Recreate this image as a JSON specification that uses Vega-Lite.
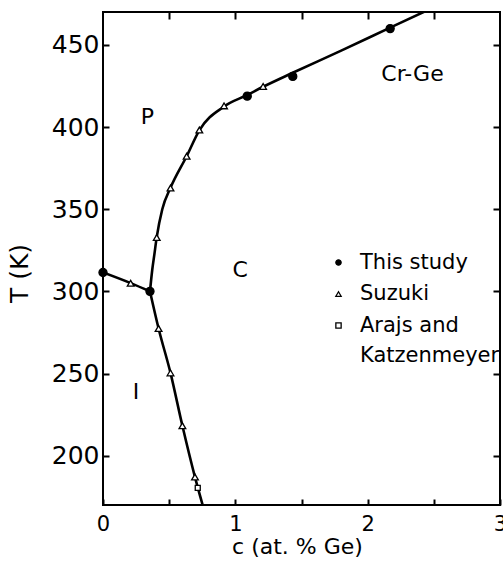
{
  "$schema": "https://vega.github.io/schema/vega-lite/v6.json",
  "width": 397,
  "height": 493,
  "autosize": "none",
  "padding": {"left": 103, "top": 12, "right": 3, "bottom": 58},
  "background": "white",
  "config": {
    "font": "DejaVu Sans",
    "style": {"guide-label": {"lineHeight": 30}},
    "view": {"stroke": "black", "strokeWidth": 2},
    "axis": {"domain": false, "grid": false, "tickColor": "black", "tickWidth": 2, "tickSize": -6, "labelColor": "black", "titleColor": "black", "labelFont": "DejaVu Sans", "titleFont": "DejaVu Sans", "titleFontWeight": "normal", "labelFlush": false, "labelOverlap": false, "zindex": 1},
    "legend": {"title": null, "orient": "none", "legendX": 225, "legendY": 240, "padding": 0, "labelFontSize": 21, "labelFont": "DejaVu Sans", "labelColor": "black", "labelOffset": 11, "rowPadding": 9.5, "symbolSize": 28, "symbolStrokeColor": "black", "symbolStrokeWidth": 1.3}
  },
  "datasets": {
    "pts": [
      {"series": "This study", "c": 0, "T": 311.5},
      {"series": "This study", "c": 0.355, "T": 300},
      {"series": "This study", "c": 1.09, "T": 418.8},
      {"series": "This study", "c": 1.434, "T": 430.8},
      {"series": "This study", "c": 2.17, "T": 459.9},
      {"series": "Suzuki", "c": 0.209, "T": 304.9},
      {"series": "Suzuki", "c": 0.406, "T": 332.8},
      {"series": "Suzuki", "c": 0.51, "T": 362.9},
      {"series": "Suzuki", "c": 0.632, "T": 382.2},
      {"series": "Suzuki", "c": 0.728, "T": 398.2},
      {"series": "Suzuki", "c": 0.915, "T": 412.9},
      {"series": "Suzuki", "c": 1.21, "T": 424.7},
      {"series": "Suzuki", "c": 0.42, "T": 277.4},
      {"series": "Suzuki", "c": 0.51, "T": 250.4},
      {"series": "Suzuki", "c": 0.6, "T": 218.2},
      {"series": "Suzuki", "c": 0.695, "T": 187},
      {"series": "Arajs and Katzenmeyer", "c": 0.716, "T": 180.4}
    ],
    "curves": [
      {"seg": "a", "c": 0, "T": 311.5},
      {"seg": "a", "c": 0.209, "T": 305},
      {"seg": "a", "c": 0.355, "T": 300},
      {"seg": "b", "c": 0.355, "T": 300},
      {"seg": "b", "c": 0.42, "T": 277.4},
      {"seg": "b", "c": 0.51, "T": 250.4},
      {"seg": "b", "c": 0.6, "T": 218.2},
      {"seg": "b", "c": 0.695, "T": 187},
      {"seg": "b", "c": 0.753, "T": 170},
      {"seg": "c", "c": 0.355, "T": 300},
      {"seg": "c", "c": 0.372, "T": 313},
      {"seg": "c", "c": 0.388, "T": 322.4},
      {"seg": "c", "c": 0.406, "T": 333},
      {"seg": "c", "c": 0.448, "T": 350},
      {"seg": "c", "c": 0.51, "T": 363},
      {"seg": "c", "c": 0.632, "T": 382.2},
      {"seg": "c", "c": 0.728, "T": 398},
      {"seg": "c", "c": 0.915, "T": 412.5},
      {"seg": "c", "c": 1.09, "T": 419.5},
      {"seg": "c", "c": 1.21, "T": 424.5},
      {"seg": "c", "c": 1.434, "T": 433},
      {"seg": "c", "c": 1.8, "T": 446.5},
      {"seg": "c", "c": 2.17, "T": 460.5},
      {"seg": "c", "c": 2.45, "T": 471}
    ],
    "regions": [
      {"label": "P", "c": 0.336, "T": 406.4},
      {"label": "C", "c": 1.036, "T": 313.3},
      {"label": "I", "c": 0.249, "T": 238.5},
      {"label": "Cr-Ge", "c": 2.339, "T": 432.1}
    ]
  },
  "layer": [
    {
      "data": {"name": "curves"},
      "mark": {"type": "line", "color": "black", "strokeWidth": 2.6, "interpolate": "monotone", "clip": true},
      "encoding": {
        "x": {"field": "c", "type": "quantitative", "scale": {"domain": [0, 3], "nice": false, "zero": false},
          "axis": {"orient": "bottom", "values": [0, 0.5, 1, 1.5, 2, 2.5, 3], "labelExpr": "datum.value % 1 ? '' : format(datum.value, 'd')", "labelFontSize": 21, "labelPadding": 14, "title": "c (at. % Ge)", "titleFontSize": 22, "titlePadding": 2, "titleX": 194}},
        "y": {"field": "T", "type": "quantitative", "scale": {"domain": [170, 470], "nice": false, "zero": false},
          "axis": {"orient": "left", "values": [200, 250, 300, 350, 400, 450], "labelFontSize": 25, "labelPadding": 10, "title": "T (K)", "titleFontSize": 25, "titlePadding": 19, "titleY": 261}},
        "detail": {"field": "seg"}
      }
    },
    {
      "data": {"name": "pts"},
      "mark": {"type": "point", "strokeWidth": 1.3, "opacity": 1},
      "encoding": {
        "x": {"field": "c", "type": "quantitative", "axis": {"orient": "top", "values": [0.5, 1, 1.5, 2, 2.5], "labels": false, "title": null, "tickSize": -7}},
        "y": {"field": "T", "type": "quantitative", "axis": {"orient": "right", "values": [200, 250, 300, 350, 400, 450], "labels": false, "title": null, "tickSize": -7}},
        "shape": {"field": "series", "type": "nominal", "scale": {"domain": ["This study", "Suzuki", "Arajs and Katzenmeyer"], "range": ["circle", "triangle-up", "square"]},
          "legend": {"labelExpr": "datum.label == 'Arajs and Katzenmeyer' ? ['Arajs and', 'Katzenmeyer'] : datum.label"}},
        "fill": {"field": "series", "type": "nominal", "scale": {"domain": ["This study", "Suzuki", "Arajs and Katzenmeyer"], "range": ["black", "white", "white"]},
          "legend": {"labelExpr": "datum.label == 'Arajs and Katzenmeyer' ? ['Arajs and', 'Katzenmeyer'] : datum.label"}},
        "stroke": {"field": "series", "type": "nominal", "scale": {"domain": ["This study", "Suzuki", "Arajs and Katzenmeyer"], "range": ["black", "black", "black"]},
          "legend": {"labelExpr": "datum.label == 'Arajs and Katzenmeyer' ? ['Arajs and', 'Katzenmeyer'] : datum.label"}},
        "size": {"field": "series", "type": "nominal", "scale": {"domain": ["Arajs and Katzenmeyer", "Suzuki", "This study"], "range": [25, 65, 50]}, "legend": null}
      }
    },
    {
      "data": {"name": "regions"},
      "mark": {"type": "text", "font": "DejaVu Sans", "fontSize": 22, "color": "black", "baseline": "middle", "align": "center"},
      "encoding": {
        "x": {"field": "c", "type": "quantitative", "axis": null},
        "y": {"field": "T", "type": "quantitative", "axis": null},
        "text": {"field": "label"}
      }
    }
  ]
}
